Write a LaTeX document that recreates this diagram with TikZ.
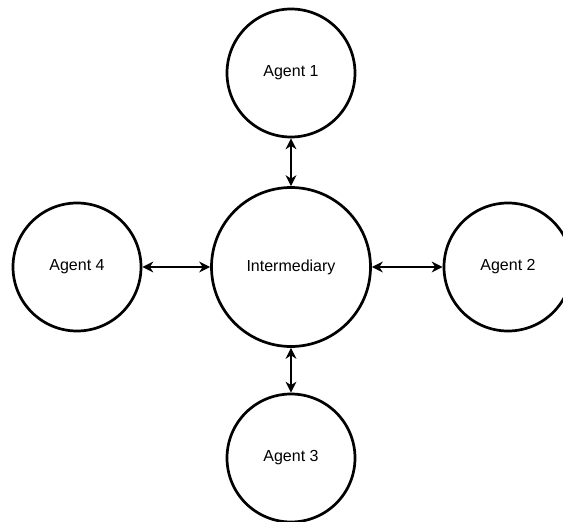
\documentclass[tikz,border=0pt]{standalone}
\usepackage{fontspec}
\setmainfont{Liberation Sans}
\usetikzlibrary{arrows.meta}
\begin{document}
\begin{tikzpicture}[x=1pt,y=-1pt,
  agent/.style={circle,draw,line width=2.7pt,minimum size=128pt,inner sep=0pt,
    font=\fontsize{16}{19}\selectfont},
  hub/.style={agent,minimum size=159pt},
  link/.style={line width=1.4pt,{Stealth[length=11pt,width=11pt,inset=3.5pt]}-{Stealth[length=11pt,width=11pt,inset=3.5pt]}}]
  \clip (0,0) rectangle (563,522);
  \node[hub]   (mid) at (291,267) {Intermediary};
  \node[agent] (a1)  at (291,73)  {Agent 1};
  \node[agent] (a2)  at (508,267) {Agent 2};
  \node[agent] (a3)  at (291,458) {Agent 3};
  \node[agent] (a4)  at (77,267)  {Agent 4};
  \draw[link] (a1) -- (mid);
  \draw[link] (mid) -- (a2);
  \draw[link] (mid) -- (a3);
  \draw[link] (a4) -- (mid);
\end{tikzpicture}
\end{document}
